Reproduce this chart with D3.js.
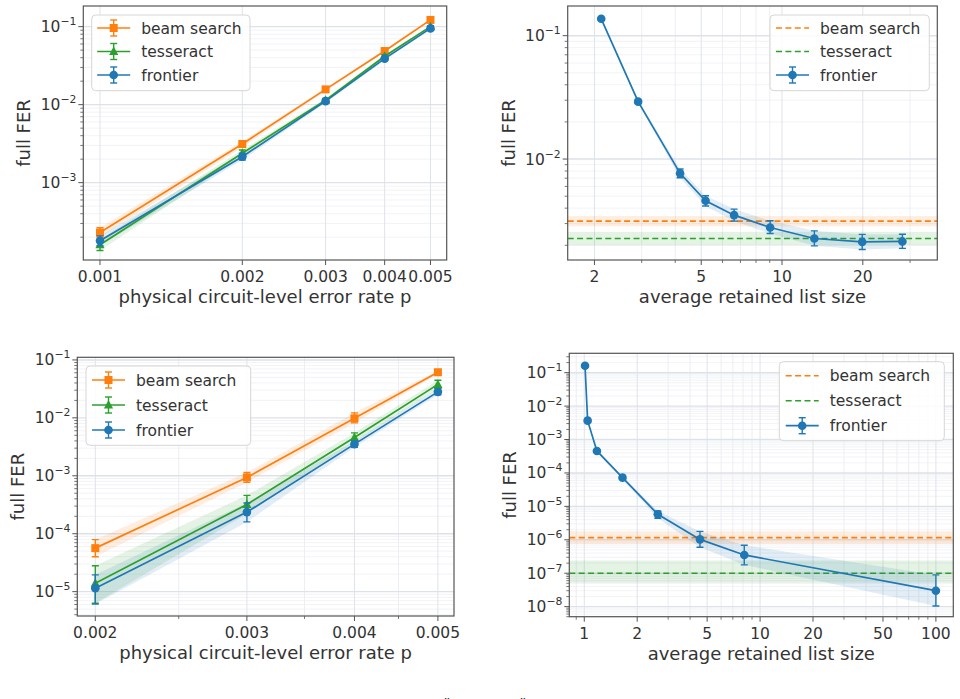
<!DOCTYPE html>
<html>
<head>
<meta charset="utf-8">
<script src="https://cdn.jsdelivr.net/npm/d3@7"></script>
<style>
  html, body { margin: 0; padding: 0; background: #fff; }
  svg { display: block; font-family: 'DejaVu Sans', sans-serif; }
</style>
</head>
<body>
<svg id="chart" width="960" height="699"></svg>
<script>
// ---- data ----

// top-left: FER vs physical error rate
const pTop = [0.001, 0.002, 0.003, 0.004, 0.005];
const beamTop = [2.3e-4, 3.13e-3, 1.57e-2, 4.87e-2, 0.122];
const beamTopLo = [2.0e-4, 2.85e-3, 1.5e-2, 4.7e-2, 0.118];
const beamTopHi = [2.65e-4, 3.4e-3, 1.64e-2, 5.05e-2, 0.126];
const tessTop = [1.6e-4, 2.38e-3, 1.14e-2, 4.17e-2, 0.100];
const tessTopLo = [1.35e-4, 2.15e-3, 1.08e-2, 4.0e-2, 0.097];
const tessTopHi = [1.88e-4, 2.62e-3, 1.2e-2, 4.35e-2, 0.103];
const frontTop = [1.8e-4, 2.15e-3, 1.11e-2, 3.89e-2, 0.095];
const frontTopLo = [1.55e-4, 1.95e-3, 1.05e-2, 3.7e-2, 0.092];
const frontTopHi = [2.08e-4, 2.38e-3, 1.17e-2, 4.08e-2, 0.098];

// top-right: FER vs list size at p = 0.002
const sizeTop = [2.12, 2.91, 4.17, 5.19, 6.63, 9.03, 13.2, 19.9, 28.1];
const ferTop = [0.137, 0.0292, 7.66e-3, 4.59e-3, 3.51e-3, 2.79e-3, 2.27e-3, 2.13e-3, 2.15e-3];
const ferTopLo = [0.134, 0.0282, 7.05e-3, 4.16e-3, 3.14e-3, 2.49e-3, 1.98e-3, 1.85e-3, 1.89e-3];
const ferTopHi = [0.140, 0.0302, 8.3e-3, 5.04e-3, 3.93e-3, 3.16e-3, 2.62e-3, 2.45e-3, 2.46e-3];
const beamRefTop = [3.14e-3, 2.85e-3, 3.45e-3];   // value, lo, hi
const tessRefTop = [2.27e-3, 2.0e-3, 2.57e-3];

// bottom-left: FER vs physical error rate
const pBot = [0.002, 0.003, 0.004, 0.005];
const beamBot = [5.64e-5, 9.35e-4, 9.8e-3, 0.0613];
const beamBotLo = [4.0e-5, 7.7e-4, 8.2e-3, 0.057];
const beamBotHi = [7.9e-5, 1.14e-3, 1.22e-2, 0.066];
const tessBot = [1.4e-5, 3.2e-4, 4.58e-3, 0.0378];
const tessBotLo = [6.3e-6, 2.2e-4, 3.8e-3, 0.032];
const tessBotHi = [2.8e-5, 4.6e-4, 5.5e-3, 0.0446];
const frontBot = [1.15e-5, 2.36e-4, 3.52e-3, 0.0281];
const frontBotLo = [6.1e-6, 1.6e-4, 3.1e-3, 0.025];
const frontBotHi = [1.95e-5, 3.4e-4, 4.0e-3, 0.032];

// bottom-right: FER vs list size
const sizeBot = [1.01, 1.045, 1.18, 1.65, 2.62, 4.55, 8.13, 100];
const ferBot = [0.162, 3.67e-3, 4.55e-4, 7.23e-5, 5.8e-6, 1.03e-6, 3.52e-7, 3.0e-8];
const ferBotLo = [0.155, 3.4e-3, 4.2e-4, 6.6e-5, 4.4e-6, 6.0e-7, 1.78e-7, 1.05e-8];
const ferBotHi = [0.170, 3.95e-3, 4.9e-4, 7.9e-5, 7.3e-6, 1.78e-6, 6.9e-7, 8.9e-8];
const beamRefBot = [1.16e-6, 7.5e-7, 1.8e-6];
const tessRefBot = [1.0e-7, 5.2e-8, 2.4e-7];

// tick labels
const xLabelsTL = [0.001, 0.002, 0.003, 0.004, 0.005];
const xLabelsTR = [2, 5, 10, 20];
const xLabelsBL = [0.002, 0.003, 0.004, 0.005];
const xLabelsBR = [1, 2, 5, 10, 20, 50, 100];

const seriesNames = ['beam search', 'tesseract', 'frontier'];

// ---- style ----
const C = { beam: '#ff7f0e', tess: '#2ca02c', front: '#1f77b4' };
const textColor = '#333';
const frameColor = '#555';

const svg = d3.select('#chart');
let clipCount = 0;

function makeSeries(name, color, marker, xs, ys, lo, hi) {
  return {
    name, color, marker,
    points: xs.map((xv, i) => ({ x: xv, y: ys[i], lo: lo[i], hi: hi[i] }))
  };
}

function drawMarker(sel, type, cx, cy, color) {
  if (type === 'square') {
    sel.append('rect').attr('x', cx - 4).attr('y', cy - 4).attr('width', 8).attr('height', 8)
      .attr('fill', color);
  } else if (type === 'triangle') {
    sel.append('path').attr('d', `M${cx},${cy - 5}L${cx + 4.6},${cy + 3.5}L${cx - 4.6},${cy + 3.5}Z`)
      .attr('fill', color);
  } else {
    sel.append('circle').attr('cx', cx).attr('cy', cy).attr('r', 4.3).attr('fill', color);
  }
}

function drawPanel(cfg) {
  const [x0, y0, x1, y1] = cfg.box;
  const g = svg.append('g');
  const x = d3.scaleLog().domain(cfg.xDomain).range([x0, x1]);
  const y = d3.scaleLog().domain(cfg.yDomain).range([y1, y0]);

  const clipId = 'clip' + (clipCount++);
  g.append('clipPath').attr('id', clipId)
    .append('rect').attr('x', x0).attr('y', y0).attr('width', x1 - x0).attr('height', y1 - y0);

  const isDecade = v => Math.abs(Math.log10(v) - Math.round(Math.log10(v))) < 1e-6;
  const isLabelled = v => cfg.xLabels.some(l => Math.abs(l - v) / v < 1e-6);
  const yTicks = y.ticks();
  const xTicks = x.ticks();

  // grid
  const grid = g.append('g');
  grid.selectAll('.ymin').data(yTicks.filter(v => !isDecade(v))).enter().append('line')
    .attr('x1', x0).attr('x2', x1).attr('y1', d => y(d)).attr('y2', d => y(d))
    .attr('stroke', '#eef0f4').attr('stroke-width', 0.8);
  grid.selectAll('.xg').data(xTicks).enter().append('line')
    .attr('y1', y0).attr('y2', y1).attr('x1', d => x(d)).attr('x2', d => x(d))
    .attr('stroke', d => isLabelled(d) ? '#dfe3ea' : '#eceef3')
    .attr('stroke-width', 1);
  grid.selectAll('.ymaj').data(yTicks.filter(isDecade)).enter().append('line')
    .attr('x1', x0).attr('x2', x1).attr('y1', d => y(d)).attr('y2', d => y(d))
    .attr('stroke', '#dde1e8').attr('stroke-width', 1.4);

  const plot = g.append('g').attr('clip-path', `url(#${clipId})`);

  // reference lines (horizontal)
  (cfg.refs || []).forEach(r => {
    plot.append('rect').attr('x', x0).attr('width', x1 - x0)
      .attr('y', y(r.v[2])).attr('height', y(r.v[1]) - y(r.v[2]))
      .attr('fill', r.color).attr('fill-opacity', 0.13);
    plot.append('line').attr('x1', x0).attr('x2', x1)
      .attr('y1', y(r.v[0])).attr('y2', y(r.v[0]))
      .attr('stroke', r.color).attr('stroke-width', 1.6).attr('stroke-dasharray', '6,3.4');
  });

  // bands
  cfg.series.forEach(s => {
    const area = d3.area().x(d => x(d.x)).y0(d => y(d.lo)).y1(d => y(d.hi));
    plot.append('path').datum(s.points).attr('d', area)
      .attr('fill', s.color).attr('fill-opacity', 0.13);
  });

  // lines, error bars, markers
  cfg.series.forEach(s => {
    const line = d3.line().x(d => x(d.x)).y(d => y(d.y));
    plot.append('path').datum(s.points).attr('d', line)
      .attr('fill', 'none').attr('stroke', s.color).attr('stroke-width', 1.7);
    const eb = plot.append('g').attr('stroke', s.color).attr('stroke-width', 1.4);
    s.points.forEach(d => {
      const cx = x(d.x);
      eb.append('line').attr('x1', cx).attr('x2', cx).attr('y1', y(d.lo)).attr('y2', y(d.hi));
      eb.append('line').attr('x1', cx - 3.5).attr('x2', cx + 3.5).attr('y1', y(d.lo)).attr('y2', y(d.lo));
      eb.append('line').attr('x1', cx - 3.5).attr('x2', cx + 3.5).attr('y1', y(d.hi)).attr('y2', y(d.hi));
    });
    const mk = plot.append('g');
    s.points.forEach(d => drawMarker(mk, s.marker, x(d.x), y(d.y), s.color));
  });

  // ticks
  const axes = g.append('g').attr('stroke', frameColor);
  yTicks.forEach(v => {
    const len = isDecade(v) ? 5 : 3;
    axes.append('line').attr('x1', x0 - len).attr('x2', x0).attr('y1', y(v)).attr('y2', y(v))
      .attr('stroke-width', isDecade(v) ? 1 : 0.8);
  });
  xTicks.forEach(v => {
    const lab = isLabelled(v);
    axes.append('line').attr('y1', y1).attr('y2', y1 + (lab ? 5 : 3)).attr('x1', x(v)).attr('x2', x(v))
      .attr('stroke-width', lab ? 1 : 0.8);
  });

  // y tick labels 10^k
  yTicks.filter(isDecade).forEach(v => {
    const k = Math.round(Math.log10(v));
    const t = g.append('text').attr('x', x0 - 7).attr('y', y(v) + 5.5)
      .attr('text-anchor', 'end').attr('fill', textColor).style('font-size', '15.5px');
    t.append('tspan').text('10');
    t.append('tspan').attr('dy', -7).style('font-size', '10.8px').text('\u2212' + Math.abs(k));
  });

  // x tick labels
  g.selectAll('.xl').data(cfg.xLabels).enter().append('text')
    .attr('x', d => x(d)).attr('y', y1 + 22)
    .attr('text-anchor', 'middle').attr('fill', textColor).style('font-size', '15.5px')
    .text(d => String(d));

  // axis labels
  g.append('text').attr('x', (x0 + x1) / 2).attr('y', y1 + 43)
    .attr('text-anchor', 'middle').attr('fill', textColor).style('font-size', '18px')
    .text(cfg.xTitle);
  g.append('text').attr('transform', `translate(${x0 - 53},${(y0 + y1) / 2}) rotate(-90)`)
    .attr('text-anchor', 'middle').attr('fill', textColor).style('font-size', '18px')
    .text('full FER');

  // frame
  g.append('rect').attr('x', x0).attr('y', y0).attr('width', x1 - x0).attr('height', y1 - y0)
    .attr('fill', 'none').attr('stroke', frameColor).attr('stroke-width', 1.2);

  // legend
  const L = cfg.legend;
  const lg = g.append('g');
  lg.append('rect').attr('x', L.x).attr('y', L.y).attr('width', L.w).attr('height', L.h)
    .attr('rx', 4).attr('fill', '#fff').attr('fill-opacity', 0.85)
    .attr('stroke', '#d6d6d6').attr('stroke-width', 1);
  L.entries.forEach((e, i) => {
    const cy = L.y + L.first + i * L.step;
    const lx0 = L.x + L.pad, lx1 = lx0 + 33, cx = (lx0 + lx1) / 2;
    if (e.dashed) {
      lg.append('line').attr('x1', lx0).attr('x2', lx1).attr('y1', cy).attr('y2', cy)
        .attr('stroke', e.color).attr('stroke-width', 1.6).attr('stroke-dasharray', '6,3.4');
    } else {
      lg.append('line').attr('x1', lx0).attr('x2', lx1).attr('y1', cy).attr('y2', cy)
        .attr('stroke', e.color).attr('stroke-width', 1.7);
      const eg = lg.append('g').attr('stroke', e.color).attr('stroke-width', 1.4);
      eg.append('line').attr('x1', cx).attr('x2', cx).attr('y1', cy - 8).attr('y2', cy + 8);
      eg.append('line').attr('x1', cx - 3.5).attr('x2', cx + 3.5).attr('y1', cy - 8).attr('y2', cy - 8);
      eg.append('line').attr('x1', cx - 3.5).attr('x2', cx + 3.5).attr('y1', cy + 8).attr('y2', cy + 8);
      drawMarker(lg, e.marker, cx, cy, e.color);
    }
    lg.append('text').attr('x', lx1 + 11).attr('y', cy + 5.5)
      .attr('fill', textColor).style('font-size', '15.5px').text(e.name);
  });
}

const xTitleP = 'physical circuit-level error rate p';
const xTitleL = 'average retained list size';

const markerEntries = [
  { name: seriesNames[0], color: C.beam, marker: 'square' },
  { name: seriesNames[1], color: C.tess, marker: 'triangle' },
  { name: seriesNames[2], color: C.front, marker: 'circle' }
];
const refEntries = [
  { name: seriesNames[0], color: C.beam, dashed: true },
  { name: seriesNames[1], color: C.tess, dashed: true },
  { name: seriesNames[2], color: C.front, marker: 'circle' }
];

drawPanel({
  box: [83.3, 6, 446.7, 260],
  xDomain: [0.000922, 0.005411], yDomain: [1.02e-4, 0.184],
  xLabels: xLabelsTL, xTitle: xTitleP,
  series: [
    makeSeries(seriesNames[0], C.beam, 'square', pTop, beamTop, beamTopLo, beamTopHi),
    makeSeries(seriesNames[1], C.tess, 'triangle', pTop, tessTop, tessTopLo, tessTopHi),
    makeSeries(seriesNames[2], C.front, 'circle', pTop, frontTop, frontTopLo, frontTopHi)
  ],
  legend: { x: 91.7, y: 15, w: 158.3, h: 75.7, first: 13, step: 23.5, pad: 5.5, entries: markerEntries }
});

drawPanel({
  box: [567.7, 6, 937.3, 260],
  xDomain: [1.59, 37.9], yDomain: [1.52e-3, 0.174],
  xLabels: xLabelsTR, xTitle: xTitleL,
  refs: [{ v: beamRefTop, color: C.beam }, { v: tessRefTop, color: C.tess }],
  series: [makeSeries(seriesNames[2], C.front, 'circle', sizeTop, ferTop, ferTopLo, ferTopHi)],
  legend: { x: 770, y: 15, w: 159.3, h: 75.7, first: 13, step: 23.5, pad: 6, entries: refEntries }
});

drawPanel({
  box: [77.3, 357.3, 454, 616],
  xDomain: [0.001906, 0.00522], yDomain: [3.8e-6, 0.111],
  xLabels: xLabelsBL, xTitle: xTitleP,
  series: [
    makeSeries(seriesNames[0], C.beam, 'square', pBot, beamBot, beamBotLo, beamBotHi),
    makeSeries(seriesNames[1], C.tess, 'triangle', pBot, tessBot, tessBotLo, tessBotHi),
    makeSeries(seriesNames[2], C.front, 'circle', pBot, frontBot, frontBotLo, frontBotHi)
  ],
  legend: { x: 86, y: 366, w: 164.7, h: 79.3, first: 14, step: 25, pad: 6, entries: markerEntries }
});

drawPanel({
  box: [569.3, 353.3, 953.3, 616.7],
  xDomain: [0.822, 125.6], yDomain: [5.0e-9, 0.38],
  xLabels: xLabelsBR, xTitle: xTitleL,
  refs: [{ v: beamRefBot, color: C.beam }, { v: tessRefBot, color: C.tess }],
  series: [makeSeries(seriesNames[2], C.front, 'circle', sizeBot, ferBot, ferBotLo, ferBotHi)],
  legend: { x: 779.3, y: 361.7, w: 165, h: 79, first: 14, step: 25, pad: 6.4, entries: refEntries }
});

// caption marks cut off by the bottom edge, as in the reference
svg.append('text').attr('x', 447).attr('y', 710).attr('text-anchor', 'middle')
  .attr('fill', textColor).style('font-size', '15px').text('"');
svg.append('text').attr('x', 523).attr('y', 710).attr('text-anchor', 'middle')
  .attr('fill', textColor).style('font-size', '15px').text('"');
</script>
</body>
</html>
